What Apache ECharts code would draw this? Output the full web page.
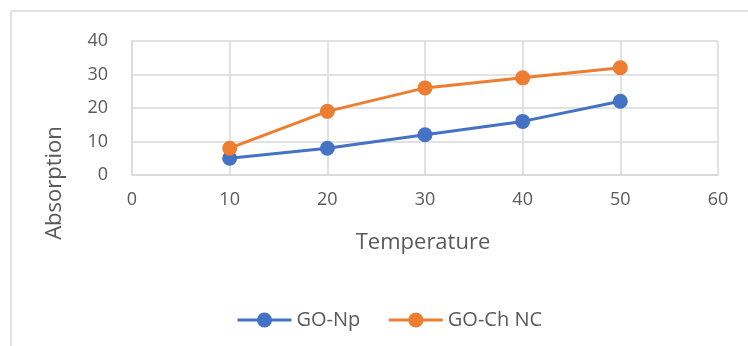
<!DOCTYPE html>
<html>
<head>
<meta charset="utf-8">
<script src="https://cdn.jsdelivr.net/npm/echarts@6/dist/echarts.min.js"></script>
<style>
  html, body { margin: 0; padding: 0; background: #fff; }
  #chart { width: 748px; height: 346px; }
</style>
</head>
<body>
<div id="chart"></div>
<script>
// Absorption vs temperature for two materials
const temperatures = [10, 20, 30, 40, 50];
const goNp = [5, 8, 12, 16, 22];
const goChNc = [8, 19, 26, 29, 32];
const seriesNames = ['GO-Np', 'GO-Ch NC'];
const xTitle = 'Temperature';
const yTitle = 'Absorption';

const FONT = '"Open Sans", "Liberation Sans", sans-serif';
const TEXT = '#595959';
const GRID = '#d9d9d9';

const chart = echarts.init(document.getElementById('chart'), null, { renderer: 'canvas' });

const pairs = (ys) => temperatures.map((t, i) => [t, ys[i]]);

chart.setOption({
  animation: false,
  grid: { left: 132, top: 41, right: 30, bottom: 171, containLabel: false },
  xAxis: {
    type: 'value', min: 0, max: 60, interval: 10,
    axisLine: { show: true, lineStyle: { color: GRID, width: 1.5 } },
    axisTick: { show: false },
    splitLine: { show: true, lineStyle: { color: GRID, width: 1.5 } },
    axisLabel: { color: TEXT, fontFamily: FONT, fontSize: 18, margin: 16 }
  },
  yAxis: {
    type: 'value', min: 0, max: 40, interval: 10,
    axisLine: { show: true, lineStyle: { color: GRID, width: 1.5 } },
    axisTick: { show: false },
    splitLine: { show: true, lineStyle: { color: GRID, width: 1.5 } },
    axisLabel: { color: TEXT, fontFamily: FONT, fontSize: 18, margin: 24 }
  },
  legend: {
    bottom: 11, left: 231, itemGap: 27, itemWidth: 54, itemHeight: 19,
    textStyle: { color: TEXT, fontFamily: FONT, fontSize: 20 },
    lineStyle: { width: 3 },
    data: seriesNames
  },
  series: [
    {
      name: seriesNames[0], type: 'line', data: pairs(goNp),
      symbol: 'circle', symbolSize: 15,
      lineStyle: { color: '#4472c4', width: 3 },
      itemStyle: { color: '#4472c4' }
    },
    {
      name: seriesNames[1], type: 'line', data: pairs(goChNc),
      symbol: 'circle', symbolSize: 15,
      lineStyle: { color: '#ed7d31', width: 3 },
      itemStyle: { color: '#ed7d31' }
    }
  ],
  graphic: [
    { type: 'line', shape: { x1: 11, y1: 11, x2: 748, y2: 11 }, style: { stroke: GRID, lineWidth: 1.5 } },
    { type: 'line', shape: { x1: 11, y1: 11, x2: 11, y2: 346 }, style: { stroke: GRID, lineWidth: 1.5 } },
    {
      type: 'text', x: 423, y: 243,
      style: { text: xTitle, fill: TEXT, font: '22px ' + FONT, align: 'center', verticalAlign: 'middle' }
    },
    {
      type: 'text', x: 55, y: 183, rotation: Math.PI / 2,
      style: { text: yTitle, fill: TEXT, font: '22px ' + FONT, align: 'center', verticalAlign: 'middle' }
    }
  ]
});
</script>
</body>
</html>
